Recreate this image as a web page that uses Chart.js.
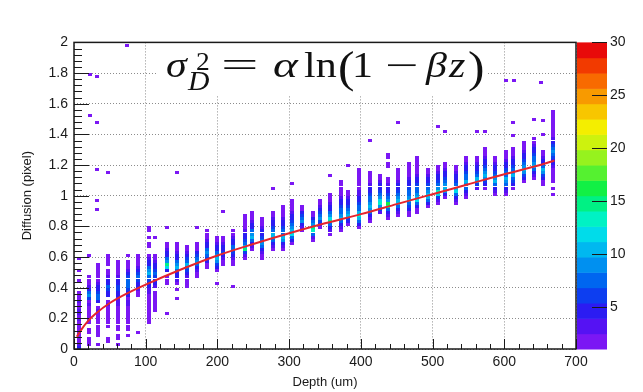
<!DOCTYPE html>
<html>
<head>
<meta charset="utf-8">
<script src="https://cdn.jsdelivr.net/npm/chart.js@4.4.1/dist/chart.umd.min.js"></script>
<style>
  html, body { margin: 0; padding: 0; background: #fff; }
  #wrap { width: 643px; height: 392px; }
</style>
</head>
<body>
<div id="wrap"><canvas id="chart" width="643" height="392"></canvas></div>
<script>
// depth of each histogram column (um)
const depths = [7, 21, 34, 48, 62, 75, 89, 104, 113, 129, 143, 157, 171, 185, 199, 208, 222, 238, 248, 262,
                277, 291, 304, 318, 333, 343, 357, 373, 382, 398, 413, 427, 438, 452, 467, 478, 494, 508, 517, 533,
                547, 562, 573, 587, 603, 612, 628, 642, 654, 668];
// first 0.02-wide diffusion bin of each column
const binStart = [0, 1, 1, 2, 1, 4, 5, 8, 12, 11, 16, 20, 23, 26, 21, 27, 20, 29, 32, 29,
                  32, 32, 34, 38, 35, 39, 37, 38, 40, 39, 41, 44, 42, 43, 43, 44, 46, 47, 49, 47,
                  49, 52, 52, 50, 50, 52, 54, 55, 53, 50];
// entries per bin, one character per bin going up (base 36, 0 = empty)
const binCounts = [
  '532212122323322321200010010001', '211011012121232698432210000001', '100121212123204786543221211',
  '11000121221232055675432201211', '1011012121222333456654322111', '101112122233245678764322101',
  '10000000000012345686432111', '1121121222334568a975432001101011', '1211212034567654321000001',
  '100000000012105cf975432100001', '1001023457b97543211', '1223468a864321', '12357986421100001',
  '1246897543211', '10002469b9754321', '1235654321', '1000000123467754321', '136fb8654321111',
  '2357a97543211', '12357986543211', '1358ba8654321', '1359a8765432111', '258cb9765432111',
  '135986421', '137ef97421', '2469864321', '1358fc97543211', '1357a987654321111', '246a98654321',
  '247bda87654332221111', '13579b98765432211', '369dc98654321', '1358fg9865432100011011',
  '1357ba9865432211', '12468a987654322111', '1247cb9876543221111', '258ba98654321', '136cd98654321',
  '259b97654321', '1358ca8654321', '13579a87654321', '36ba8654321', '2469b976543211', '1358a98654321',
  '13579a876543211', '1468a976543211', '2469b976543211', '1358a987654321', '12469a754321',
  '1010121223456798643221111111'
];
// isolated single entries
const outX = [74, 22, 32, 22, 32, 32, 48, 143, 32, 32, 208, 277, 304, 357, 382, 413, 452, 508, 517, 562,
              573, 603, 614, 651, 612, 642, 654, 612, 654];
const outY = [1.98, 1.79, 1.78, 1.52, 1.48, 1.17, 1.15, 1.15, 0.97, 0.91, 0.90, 1.05, 1.08, 1.13, 1.20, 1.36, 1.48, 1.45, 1.42, 1.42,
              1.42, 1.75, 1.75, 1.74, 1.48, 1.50, 1.49, 1.39, 1.40];
// fitted curve
const fitX = [4, 10, 20, 30, 50, 75, 100, 150, 200, 250, 300, 350, 400, 450, 500, 550, 600, 650, 670];
const fitY = [0.08, 0.125, 0.185, 0.23, 0.3, 0.365, 0.42, 0.52, 0.61, 0.685, 0.755, 0.82, 0.88, 0.945, 1.01, 1.075, 1.14, 1.2, 1.23];
// colour scale
const zMin = 1, zMax = 30;
const zTicks = [5, 10, 15, 20, 25, 30];
const palette = ['#7b17f4', '#5512f3', '#2b1cf2', '#0d3ef0', '#0066f0', '#0090f0', '#00b8f0', '#00dcea', '#00f2c4', '#00f184',
                 '#12f045', '#55f130', '#96f21e', '#cdf20e', '#f4ee00', '#f8c600', '#f89a00', '#f86a00', '#f23a00', '#e80a0a'];

const binH = 0.02, cellW = 6;

var cells = [];
depths.forEach(function(d, i) {
    binCounts[i].split('').forEach(function(ch, j) {
        let n = parseInt(ch, 36);
        if (n > 0) {
            cells.push({x: d, y: (binStart[i] + j) * binH + binH / 2, c: n});
        }
    });
});
outX.forEach(function(x, i) {
    cells.push({x: x, y: outY[i], c: 1});
});

function colour_for(n) {
    let k = Math.floor((n - zMin) / (zMax - zMin) * palette.length);
    return palette[Math.max(0, Math.min(palette.length - 1, k))];
}

const tiles = {};
function tile_for(ctx) {
    if (!ctx.raw) return 'rect';
    const xs = ctx.chart.scales.x, ys = ctx.chart.scales.y;
    const w = Math.max(2, Math.round(Math.abs(xs.getPixelForValue(cellW) - xs.getPixelForValue(0))));
    const h = Math.max(2, Math.round(Math.abs(ys.getPixelForValue(0) - ys.getPixelForValue(binH))));
    const col = colour_for(ctx.raw.c);
    const key = col + w + 'x' + h;
    if (!tiles[key]) {
        const t = document.createElement('canvas');
        t.width = w; t.height = h;
        const g = t.getContext('2d');
        g.fillStyle = col;
        g.fillRect(0, 0, w, h);
        tiles[key] = t;
    }
    return tiles[key];
}

const ink = '#1a1a1a';

// frame, inward ticks, colour bar and the formula
const rootStyle = {
    id: 'rootStyle',
    beforeDatasetsDraw(chart) {
        const c = chart.ctx;
        c.save();
        c.fillStyle = '#fff';
        c.fillRect(156, 38, 331, 57);
        c.fillStyle = '#111';
        const parts = [
            ['σ', 'italic', 35, 166, 77, 1.2],
            ['2', 'normal', 25, 196, 70, 1.1],
            ['D', 'italic', 27, 188, 90, 1.1],
            ['=', 'normal', 35, 221, 77, 1.9],
            ['α', 'italic', 35, 273, 77, 1.35],
            ['ln', 'normal', 35, 304, 77, 1.2],
            ['(', 'normal', 45, 338, 82, 1.1],
            ['1', 'normal', 35, 352, 77, 1.2],
            ['−', 'normal', 35, 385, 77, 1.7],
            ['β', 'italic', 35, 426, 77, 1.2],
            ['z', 'italic', 35, 449, 77, 1.2],
            [')', 'normal', 45, 468, 82, 1.1]
        ];
        c.textAlign = 'left';
        c.textBaseline = 'alphabetic';
        parts.forEach(function(p) {
            c.save();
            c.font = p[1] + ' ' + p[2] + 'px "Liberation Serif", "DejaVu Serif", serif';
            c.translate(p[3], p[4]);
            c.scale(p[5], 1);
            c.fillText(p[0], 0, 0);
            c.restore();
        });
        c.restore();
    },
    afterDatasetsDraw(chart) {
        const c = chart.ctx, a = chart.chartArea;
        const xs = chart.scales.x, ys = chart.scales.y, zs = chart.scales.z;
        c.save();

        // colour bar
        const bx = a.right + 1, bw = 30;
        for (let k = 0; k < palette.length; k++) {
            const v0 = zMin + (zMax - zMin) * k / palette.length;
            const v1 = zMin + (zMax - zMin) * (k + 1) / palette.length;
            const y0 = zs.getPixelForValue(v0), y1 = zs.getPixelForValue(v1);
            c.fillStyle = palette[k];
            c.fillRect(bx, y1, bw, y0 - y1 + 0.5);
        }
        c.strokeStyle = ink;
        c.lineWidth = 1;
        zTicks.forEach(function(v) {
            const y = Math.round(zs.getPixelForValue(v)) + 0.5;
            c.beginPath();
            c.moveTo(bx + bw, y);
            c.lineTo(bx + bw - 15, y);
            c.stroke();
        });

        // inward ticks
        c.lineWidth = 1;
        for (let v = 0; v <= 700; v += 20) {
            const x = Math.round(xs.getPixelForValue(v)) + 0.5;
            c.beginPath();
            c.moveTo(x, a.bottom);
            c.lineTo(x, a.bottom - (v % 100 === 0 ? 10 : 5));
            c.stroke();
        }
        for (let k = 0; k <= 50; k++) {
            const y = Math.round(ys.getPixelForValue(k * 0.04)) + 0.5;
            c.beginPath();
            c.moveTo(a.left, y);
            c.lineTo(a.left + (k % 5 === 0 ? 15 : 8), y);
            c.stroke();
        }

        // frame
        c.lineWidth = 1.5;
        c.strokeRect(a.left, a.top, a.right - a.left, a.bottom - a.top);
        c.restore();
    }
};

Chart.defaults.font.family = '"Liberation Sans", Arial, sans-serif';
Chart.defaults.color = ink;

const ctx = document.getElementById('chart');
new Chart(ctx, {
    type: 'scatter',
    data: {
        datasets: [{
            label: 'fit',
            type: 'line',
            data: fitX.map(function(x, i) { return {x: x, y: fitY[i]}; }),
            borderColor: '#e5252d',
            borderWidth: 2,
            pointRadius: 0,
            fill: false,
            tension: 0.4,
            cubicInterpolationMode: 'monotone',
            order: 0
        }, {
            label: 'entries',
            data: cells,
            pointStyle: tile_for,
            pointRadius: 2,
            order: 1
        }]
    },
    options: {
        responsive: false,
        animation: false,
        events: [],
        layout: { padding: { top: 9, right: 0, bottom: 0, left: 0 } },
        plugins: { legend: { display: false }, tooltip: { enabled: false } },
        scales: {
            x: {
                type: 'linear',
                min: 0,
                max: 700,
                ticks: { stepSize: 100, font: { size: 14 }, padding: 5, maxRotation: 0 },
                grid: { color: '#8c8c8c', lineWidth: 1, drawTicks: false },
                border: { display: false, dash: [1, 2] },
                title: { display: true, text: 'Depth (um)', font: { size: 13 }, padding: { top: 0, bottom: 2 } },
                afterFit: function(s) { s.height = 43; }
            },
            y: {
                type: 'linear',
                min: 0,
                max: 2,
                ticks: {
                    stepSize: 0.2,
                    font: { size: 14 },
                    padding: 6,
                    callback: function(v) { return String(Number(v.toFixed(1))); }
                },
                grid: { color: '#8c8c8c', lineWidth: 1, drawTicks: false },
                border: { display: false, dash: [1, 2] },
                title: { display: true, text: 'Diffusion (pixel)', font: { size: 13 }, padding: { top: 20, bottom: 0 } },
                afterFit: function(s) { s.width = 74; }
            },
            z: {
                axis: 'y',
                type: 'linear',
                position: 'right',
                min: zMin,
                max: zMax,
                afterBuildTicks: function(s) { s.ticks = zTicks.map(function(v) { return {value: v}; }); },
                ticks: { font: { size: 14 }, padding: 34 },
                grid: { drawOnChartArea: false, drawTicks: false },
                border: { display: false },
                afterFit: function(s) { s.width = 67; }
            }
        }
    },
    plugins: [rootStyle]
});
</script>
</body>
</html>
